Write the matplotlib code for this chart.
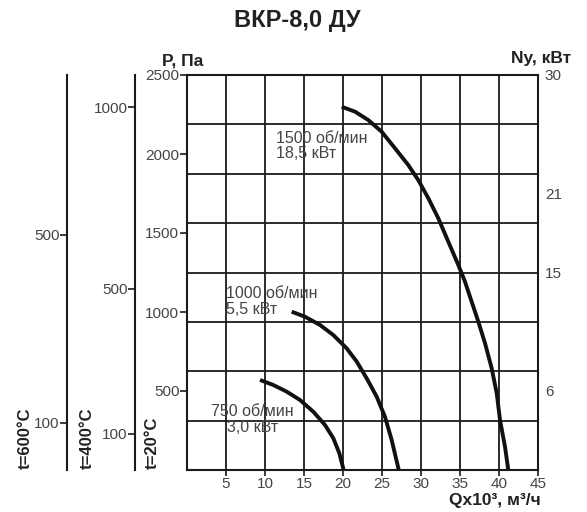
import matplotlib.pyplot as plt

plt.rcParams['font.family'] = ['Liberation Sans', 'DejaVu Sans']

# performance curves, Q (x10^3 m3/h) vs P (Pa) at t=20C
q_1500 = [19.83, 21.54, 23.24, 24.96, 26.67, 28.37, 29.65, 30.94, 32.22, 33.50,
          34.78, 35.64, 36.28, 37.35, 38.21, 39.06, 39.71, 40.13, 40.77, 41.19]
p_1500 = [2299, 2268, 2215, 2141, 2036, 1930, 1835, 1720, 1593, 1445,
          1298, 1192, 1097, 939, 802, 644, 485, 316, 147, 0]
q_1000 = [13.42, 15.13, 17.05, 18.76, 20.47, 21.76, 23.04, 24.32, 25.38, 26.24, 27.15]
p_1000 = [1002, 970, 918, 854, 770, 686, 580, 464, 337, 190, 0]
q_750 = [9.36, 11.06, 12.78, 14.49, 16.19, 17.69, 18.76, 19.53, 20.08]
p_750 = [570, 538, 496, 443, 369, 285, 201, 106, 0]

labels = [("1500 об/мин\n18,5 кВт", 11.4, 2050, 'left'),
          ("1000 об/мин\n5,5 кВт", 5.0, 1066, 'left'),
          ("750 об/мин\n3,0 кВт", 3.1, 318, 'center')]

x_ticks = [5, 10, 15, 20, 25, 30, 35, 40, 45]
p_ticks = [500, 1000, 1500, 2000, 2500]
ny_ticks = [6, 15, 21, 30]
p400_ticks = [100, 500, 1000]
p600_ticks = [100, 500]

dark = '#1a1a1a'
gray = '#444444'

fig = plt.figure(figsize=(5.87, 5.12), dpi=100)
ax = fig.add_axes([187 / 587, 1 - 470 / 512, 351 / 587, 395 / 512])
ax.set_xlim(0, 45)
ax.set_ylim(0, 2500)

for x in x_ticks[:-1]:
    ax.axvline(x, color=dark, lw=1.3, zorder=1)
for k in range(1, 8):
    ax.axhline(2500 * k / 8, color=dark, lw=1.3, zorder=1)

for q, p in [(q_1500, p_1500), (q_1000, p_1000), (q_750, p_750)]:
    ax.plot(q, p, color='#111111', lw=2.8, zorder=3,
            solid_capstyle='butt', solid_joinstyle='round')

for txt, x, y, al in labels:
    ax.text(x, y, txt, fontsize=11.5, color=gray, va='center', ha='left',
            multialignment=al, linespacing=1.05, zorder=4)

ax.set_xticks(x_ticks)
ax.set_xticklabels([str(v) for v in x_ticks])
ax.set_yticks(p_ticks)
ax.set_yticklabels([str(v) for v in p_ticks])
ax.tick_params(axis='x', labelsize=11, labelcolor=gray, color=dark,
               length=4, width=1.2, pad=1)
ax.tick_params(axis='y', labelsize=11, labelcolor=gray, color=dark,
               length=5, width=1.2, pad=0.5)
for s in ax.spines.values():
    s.set_linewidth(1.5)
    s.set_color(dark)

# right axis Ny
axr = ax.twinx()
axr.set_ylim(0, 30)
axr.set_yticks(ny_ticks)
axr.set_yticklabels([str(v) for v in ny_ticks])
axr.tick_params(axis='y', length=0, labelsize=11, labelcolor=gray, pad=5)
for s in axr.spines.values():
    s.set_visible(False)

# extra pressure scales for hot gas (offsets in points)
for ticks, top, offset in [(p400_ticks, 2500 * 293 / 673, 37.4),
                           (p600_ticks, 2500 * 293 / 873, 86.4)]:
    a = ax.twinx()
    a.set_ylim(0, top)
    a.yaxis.set_ticks_position('left')
    a.spines['left'].set_position(('outward', offset))
    a.spines['left'].set_linewidth(1.5)
    a.spines['left'].set_color(dark)
    for name in ['right', 'top', 'bottom']:
        a.spines[name].set_visible(False)
    a.set_yticks(ticks)
    a.set_yticklabels([str(v) for v in ticks])
    a.tick_params(axis='y', labelsize=11, labelcolor=gray, color=dark,
                  length=5, width=1.2, pad=0.5)

fig.text(297 / 587, 1 - 21 / 512, "ВКР-8,0 ДУ", fontsize=17, fontweight='bold',
         ha='center', va='center', color='#222222')
fig.text(162 / 587, 1 - 61 / 512, "P, Па", fontsize=12.5, fontweight='bold',
         ha='left', va='center', color='#222222')
fig.text(511 / 587, 1 - 58 / 512, "Ny, кВт", fontsize=12.5, fontweight='bold',
         ha='left', va='center', color='#222222')
fig.text(449 / 587, 1 - 501 / 512, "Qx10³, м³/ч", fontsize=12.5, fontweight='bold',
         ha='left', va='center', color='#222222')
for txt, x in [("t=600°C", 25), ("t=400°C", 87), ("t=20°C", 152)]:
    fig.text(x / 587, 1 - 469 / 512, txt, fontsize=12, fontweight='bold',
             rotation=90, ha='center', va='bottom', color='#222222')

fig.savefig("out.png", dpi=100)
